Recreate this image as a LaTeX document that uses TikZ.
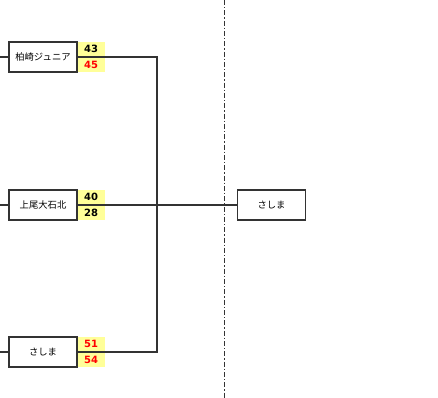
\documentclass[tikz,border=0pt]{standalone}
\usepackage{fontspec}
\newfontfamily\jpfont{Noto Sans CJK JP}
\newfontfamily\scorefont{DejaVu Sans}
\definecolor{scoreyellow}{HTML}{FFFF99}
\definecolor{linegray}{HTML}{333333}
\begin{document}
\begin{tikzpicture}[x=0.75pt, y=-0.75pt]
\tikzset{team/.style={draw=linegray, line width=0.9pt, fill=white, minimum width=51pt, minimum height=22.5pt, inner sep=0pt, font=\jpfont\fontsize{7}{8}\selectfont},
         score/.style={fill=scoreyellow, minimum width=20pt, minimum height=11.25pt, inner sep=0pt, font=\scorefont\bfseries\fontsize{7.5}{8}\selectfont},
         link/.style={draw=linegray, line width=0.8pt}}
        \useasboundingbox (0,0) rectangle (438,398);

        \node[team] (kashiwazaki) at (43,57) {柏崎ジュニア};
        \node[team] (ageo) at (43,205) {上尾大石北};
        \node[team] (sashima) at (43,352) {さしま};
        \node[team] (winner) at (271.5,205) {さしま};

        \node[score, anchor=south west] (k1) at (kashiwazaki.east) {43};
        \node[score, anchor=north west, text=red] (k2) at (kashiwazaki.east) {45};
        \node[score, anchor=south west] (a1) at (ageo.east) {40};
        \node[score, anchor=north west] (a2) at (ageo.east) {28};
        \node[score, anchor=south west, text=red] (s1) at (sashima.east) {51};
        \node[score, anchor=north west, text=red] (s2) at (sashima.east) {54};

        \coordinate (in1) at (0,57);
        \coordinate (in2) at (0,205);
        \coordinate (in3) at (0,352);
        \coordinate (top) at (157,57);
        \coordinate (bottom) at (157,352);

        \draw[link] (in1) -- (kashiwazaki.west);
        \draw[link] (in2) -- (ageo.west);
        \draw[link] (in3) -- (sashima.west);
        \draw[link] (kashiwazaki.east) -- (top) -- (bottom) -- (sashima.east);
        \draw[link] (ageo.east) -- (winner.west);

        \draw[draw=linegray, line width=0.75pt, dash pattern=on 3.75pt off 1.5pt on 1pt off 1.5pt] (224,0) -- (224,398);
\end{tikzpicture}
\end{document}
